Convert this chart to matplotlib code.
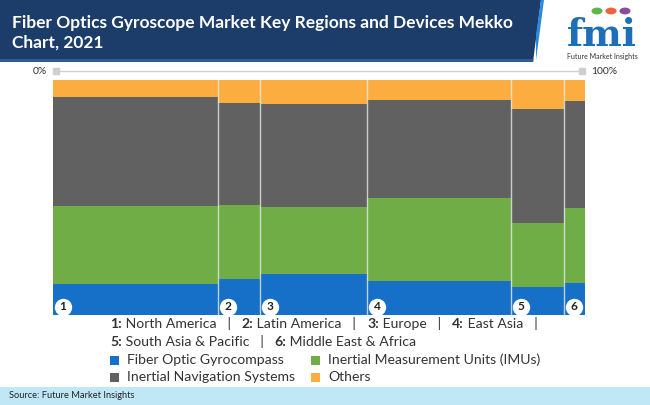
import matplotlib
matplotlib.use("Agg")
import matplotlib.pyplot as plt
import numpy as np
from matplotlib.patches import Polygon, Rectangle, Circle

# ---------------- data ----------------
regions = ["North America", "Latin America", "Europe", "East Asia",
           "South Asia & Pacific", "Middle East & Africa"]
region_ids = ["1", "2", "3", "4", "5", "6"]
region_share = [31.0, 7.9, 20.1, 27.1, 10.0, 3.9]   # bar widths (%)

series_names = ["Fiber Optic Gyrocompass", "Inertial Measurement Units (IMUs)",
                "Inertial Navigation Systems", "Others"]
fiber_optic_gyrocompass = [13.1, 15.4, 17.6, 14.3, 11.9, 13.6]
inertial_measurement_units = [33.4, 31.4, 28.2, 35.4, 27.4, 32.0]
inertial_navigation_systems = [46.1, 43.3, 44.0, 42.0, 48.5, 45.4]
others = [7.4, 9.9, 10.2, 8.3, 12.2, 9.0]

series_colors = ["#1670c7", "#70ad47", "#616161", "#fbae3f"]

title_text = "Fiber Optics Gyroscope Market Key Regions and Devices Mekko\nChart, 2021"
source_text = "Source: Future Market Insights"

# ---------------- figure ----------------
W, H = 650, 405
fig = plt.figure(figsize=(W / 100, H / 100), dpi=100)
fig.patch.set_facecolor("white")

def fx(x):
    return x / W

def fy(y):
    return 1 - y / H

FONT = ["Lato", "DejaVu Sans"]

# title banner
fig.patches.append(Polygon([(fx(0), fy(0)), (fx(541), fy(0)), (fx(533), fy(62)), (fx(0), fy(62))],
                           closed=True, transform=fig.transFigure, facecolor="#1c3c69",
                           edgecolor="none", zorder=0))
fig.patches.append(Polygon([(fx(0), fy(59)), (fx(533.5), fy(59)), (fx(533), fy(62)), (fx(0), fy(62))],
                           closed=True, transform=fig.transFigure, facecolor="#2f5e97",
                           edgecolor="none", zorder=1))
fig.patches.append(Polygon([(fx(536), fy(35)), (fx(541), fy(0)), (fx(544), fy(0)), (fx(536), fy(60))],
                           closed=True, transform=fig.transFigure, facecolor="#2b8ae0",
                           edgecolor="none", zorder=1))
fig.text(fx(12), fy(33), title_text, color="white", fontsize=12.5, fontweight="bold",
         family=FONT, ha="left", va="center", linespacing=1.3)

# logo
fig.text(fx(602), fy(46), "fmi", color="#1d6fb8", fontsize=27, fontweight="bold",
         family=["DejaVu Serif"], ha="center", va="baseline")
for cx, col in [(597, "#5cb746"), (611, "#f0643c"), (625, "#8a4b9a")]:
    fig.patches.append(Circle((fx(cx), fy(11)), 5.5 / W, transform=fig.transFigure,
                              facecolor=col, edgecolor="none"))
fig.text(fx(602), fy(56), "Future Market Insights", color="#333333", fontsize=5.0,
         family=FONT, ha="center", va="center")

# source strip
fig.patches.append(Rectangle((0, 0), 1, fy(387), transform=fig.transFigure,
                             facecolor="#bfe7f5", edgecolor="none"))
fig.text(fx(9), fy(396), source_text, color="#222222", fontsize=6.7, family=FONT,
         ha="left", va="center")

# ---------------- mekko ----------------
left_px, right_px, top_px, bot_px = 53, 585, 80, 315
ax = fig.add_axes([fx(left_px), fy(bot_px), fx(right_px - left_px), (bot_px - top_px) / H])

widths = np.array(region_share)
lefts = np.concatenate([[0], np.cumsum(widths)[:-1]])
stack = [fiber_optic_gyrocompass, inertial_measurement_units, inertial_navigation_systems, others]
bottom = np.zeros(len(widths))
for vals, col in zip(stack, series_colors):
    vals = np.array(vals)
    ax.bar(lefts, vals, width=widths, bottom=bottom, align="edge", color=col,
           edgecolor="none", linewidth=0)
    bottom += vals

# light separators between columns
for x in lefts[1:]:
    ax.axvline(x, color="#e8e8e8", linewidth=1.0, alpha=0.8)

ax.set_xlim(0, widths.sum())
ax.set_ylim(0, 100)
ax.axis("off")

# region number markers
for l, w, rid in zip(lefts, widths, region_ids):
    cx = l + min(1.9, w / 2)
    ax.plot([cx], [3.5], marker="o", markersize=12.5, markerfacecolor="white",
            markeredgecolor="none", clip_on=False, zorder=5)
    ax.text(cx, 3.5, rid, ha="center", va="center", fontsize=8.6, fontweight="bold",
            color="#222222", family=FONT, zorder=6)

# top 0%-100% axis
ax.plot([0.9, widths.sum() - 0.9], [103.8, 103.8], color="#d0d0d0", linewidth=1.0,
        clip_on=False)
ax.plot([0.5, widths.sum() - 0.5], [103.8, 103.8], linestyle="none", marker="s",
        markersize=5, color="#cfcfcf", clip_on=False)
ax.text(-1.2, 103.8, "0%", ha="right", va="center", fontsize=7.5, color="#333333",
        family=FONT)
ax.text(widths.sum() + 1.2, 103.8, "100%", ha="left", va="center", fontsize=7.5,
        color="#333333", family=FONT)

# ---------------- legend text ----------------
txt_col = "#333333"
fs = 10.1

def draw_line(parts, x0, y):
    """parts: list of (text, bold)"""
    renderer = fig.canvas.get_renderer()
    x = x0
    for s, bold in parts:
        t = fig.text(fx(x), fy(y), s, fontsize=fs, color=txt_col, family=FONT,
                     fontweight="bold" if bold else "normal", ha="left", va="center")
        bb = t.get_window_extent(renderer=renderer)
        x += bb.width

sep = "   |   "
line1 = []
for i in range(4):
    tail = sep.rstrip() if i == 3 else sep
    line1 += [(region_ids[i] + ":", True), (" " + regions[i] + tail, False)]
draw_line(line1, 110, 324)
line2 = [(region_ids[4] + ":", True), (" " + regions[4] + sep, False),
         (region_ids[5] + ":", True), (" " + regions[5], False)]
draw_line(line2, 110, 342)

leg_pos = [(110, 360), (311, 360), (110, 377), (311, 377)]
for (lx, ly), name, col in zip(leg_pos, series_names, series_colors):
    fig.patches.append(Rectangle((fx(lx), fy(ly + 4.5)), 9 / W, 9 / H, transform=fig.transFigure,
                                 facecolor=col, edgecolor="none"))
    fig.text(fx(lx + 17), fy(ly), name, fontsize=fs, color=txt_col, family=FONT,
             ha="left", va="center")

fig.savefig("out.png", dpi=100, facecolor=fig.get_facecolor())
